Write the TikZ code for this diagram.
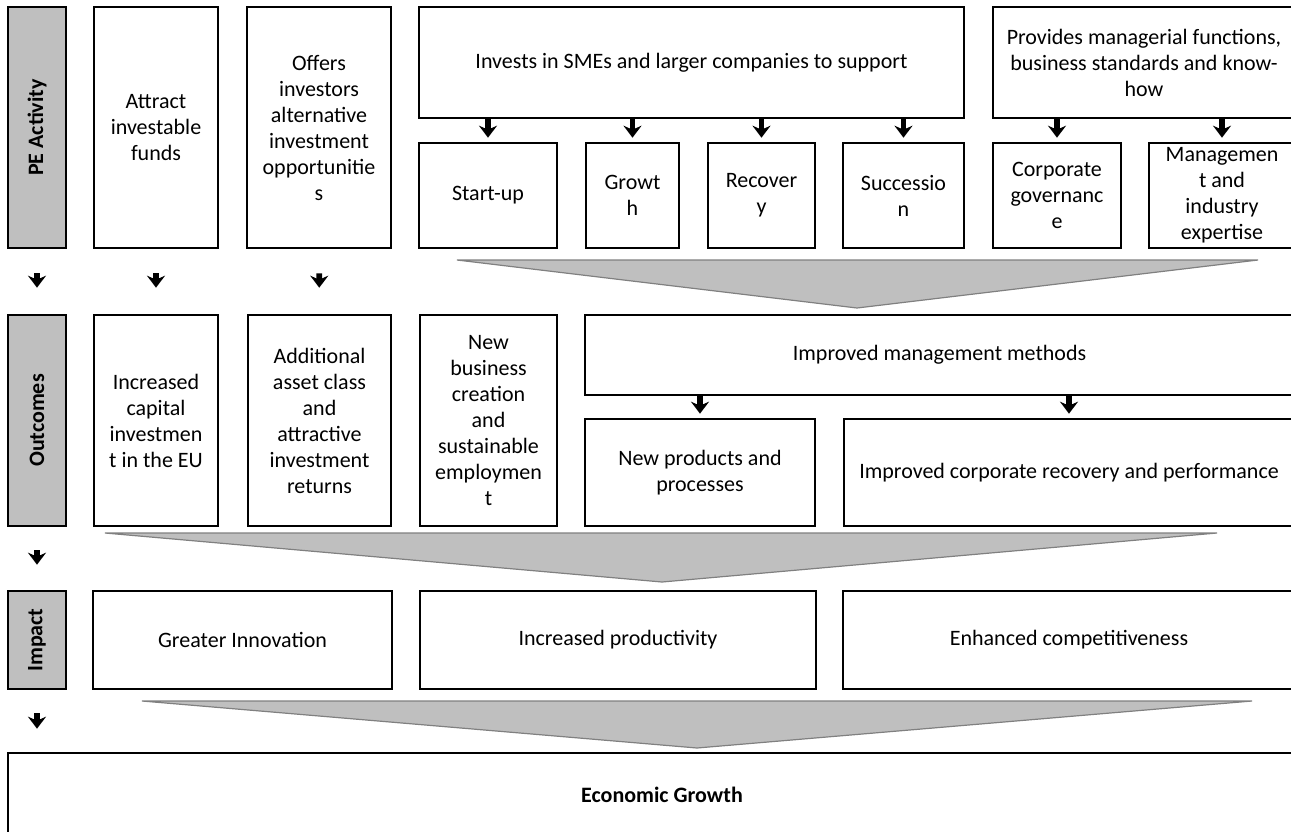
\documentclass[tikz,border=0pt]{standalone}
\usepackage{fontspec}
\setmainfont{Carlito}
\usetikzlibrary{arrows.meta}

\begin{document}
\begin{tikzpicture}[
x=0.5pt,y=-0.5pt,
font=\fontsize{11}{13}\selectfont,
box/.style={rectangle,draw=black,line width=1.3pt,fill=white,align=center,inner sep=2pt},
rowlabel/.style={box,fill=black!25,font=\fontsize{11}{13}\selectfont\bfseries},
size/.style 2 args={minimum width=#1*0.5pt,minimum height=#2*0.5pt},
flow/.style={-{Stealth[width=9pt,length=6pt,inset=2pt]},line width=2.8pt},
funnel/.style={fill=black!25,draw=black!50,line width=0.6pt}
]
\clip (0,0) rectangle (1291,831);

% Draw PE Activity row
\node [rowlabel,size={58}{241}] (pe) at (37,127.5) {\rotatebox{90}{PE Activity}};
\node [box,size={124}{241}] (attract) at (156,127.5) {Attract\\investable\\funds};
\node [box,size={144}{241}] (offers) at (319,127.5) {Offers\\investors\\alternative\\investment\\opportunitie\\s};
\node [box,size={545}{111}] (invests) at (691.5,62.5) {Invests in SMEs and larger companies to support};
\node [box,size={302}{111}] (provides) at (1144,62.5) {Provides managerial functions,\\business standards and know-\\how};

\node [box,size={138}{105}] (startup) at (488,195.5) {Start-up};
\node [box,size={93}{105}] (growth) at (632.5,195.5) {Growt\\h};
\node [box,size={107}{105}] (recovery) at (761.5,195.5) {Recover\\y};
\node [box,size={121}{105}] (succession) at (903.5,195.5) {Successio\\n};
\node [box,size={128}{105}] (corpgov) at (1057,195.5) {Corporate\\governanc\\e};
\node [box,size={146}{105}] (mgmtexp) at (1222,195.5) {Managemen\\t and\\industry\\expertise};

\foreach \sub in {startup,growth,recovery,succession,corpgov,mgmtexp}{
  \draw [flow,shorten >=2pt] (invests.south -| \sub.north) -- (\sub.north);
}

% Draw Outcomes row
\node [rowlabel,size={58}{211}] (outc) at (37,420.5) {\rotatebox{90}{Outcomes}};
\node [box,size={124}{211}] (capital) at (156,420.5) {Increased\\capital\\investmen\\t in the EU};
\node [box,size={143}{211}] (assets) at (319.5,420.5) {Additional\\asset class\\and\\attractive\\investment\\returns};
\node [box,size={137}{211}] (newbiz) at (488.5,420.5) {New\\business\\creation\\and\\sustainable\\employmen\\t};
\node [box,size={709}{80}] (mgmtmeth) at (939.5,355) {Improved management methods};
\node [box,size={230}{107}] (products) at (700,472.5) {New products and\\processes};
\node [box,size={450}{107}] (recovperf) at (1069,472.5) {Improved corporate recovery and performance};

\foreach \sub in {products,recovperf}{
  \draw [flow,shorten >=2pt] (mgmtmeth.south -| \sub.north) -- (\sub.north);
}

% Draw Impact row
\node [rowlabel,size={58}{98}] (imp) at (37,640) {\rotatebox{90}{Impact}};
\node [box,size={299}{98}] (innov) at (242.5,640) {Greater Innovation};
\node [box,size={396}{98}] (productiv) at (618,640) {Increased productivity};
\node [box,size={452}{98}] (compet) at (1069,640) {Enhanced competitiveness};

% Draw final box
\node [box,size={1308}{84},font=\fontsize{11}{13}\selectfont\bfseries] (econ) at (662,795) {Economic Growth};

% Arrows between rows
\draw [flow,shorten <=12pt,shorten >=13pt] (pe) -- (outc);
\draw [flow,shorten <=12pt,shorten >=13pt] (attract) -- (capital);
\draw [flow,shorten <=12pt,shorten >=13pt] (offers) -- (assets);
\draw [flow,shorten <=11.5pt,shorten >=12.5pt] (outc) -- (imp);
\draw [flow,shorten <=11.5pt,shorten >=11.5pt] (imp.south) -- (imp.south |- econ.north);

% Funnels
\draw [funnel] (457,260) -- (1258,260) -- (857,308) -- cycle;
\draw [funnel] (105,533) -- (1217,533) -- (662,582) -- cycle;
\draw [funnel] (142,701) -- (1252,701) -- (697,748) -- cycle;

\end{tikzpicture}
\end{document}
